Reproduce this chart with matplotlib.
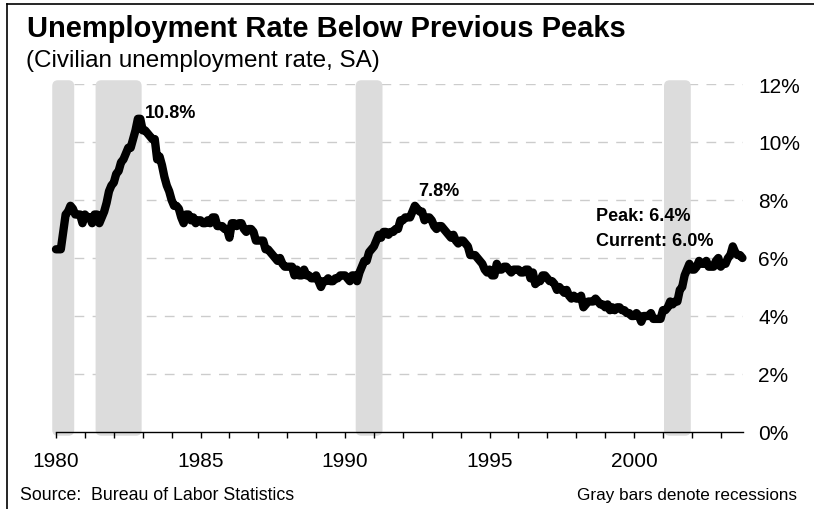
import numpy as np
import matplotlib
matplotlib.use('Agg')
import matplotlib.pyplot as plt
from matplotlib.patches import FancyBboxPatch
from matplotlib.lines import Line2D

plt.rcParams['font.family'] = ['Liberation Sans', 'DejaVu Sans']

# monthly civilian unemployment rate (%), SA, Jan 1980 - Oct 2003
rate_1980s = [
    6.3, 6.3, 6.3, 6.9, 7.5, 7.6, 7.8, 7.7, 7.5, 7.5, 7.5, 7.2,   # 1980
    7.5, 7.4, 7.4, 7.2, 7.5, 7.5, 7.2, 7.4, 7.6, 7.9, 8.3, 8.5,   # 1981
    8.6, 8.9, 9.0, 9.3, 9.4, 9.6, 9.8, 9.8, 10.1, 10.4, 10.8, 10.8,  # 1982
    10.4, 10.4, 10.3, 10.2, 10.1, 10.1, 9.4, 9.5, 9.2, 8.8, 8.5, 8.3,  # 1983
    8.0, 7.8, 7.8, 7.7, 7.4, 7.2, 7.5, 7.5, 7.3, 7.4, 7.2, 7.3,   # 1984
    7.3, 7.2, 7.2, 7.3, 7.2, 7.4, 7.4, 7.1, 7.1, 7.1, 7.0, 7.0,   # 1985
    6.7, 7.2, 7.2, 7.1, 7.2, 7.2, 7.0, 6.9, 7.0, 7.0, 6.9, 6.6,   # 1986
    6.6, 6.6, 6.6, 6.3, 6.3, 6.2, 6.1, 6.0, 5.9, 6.0, 5.8, 5.7,   # 1987
    5.7, 5.7, 5.7, 5.4, 5.6, 5.4, 5.4, 5.6, 5.4, 5.4, 5.3, 5.3,   # 1988
    5.4, 5.2, 5.0, 5.2, 5.2, 5.3, 5.2, 5.2, 5.3, 5.3, 5.4, 5.4,   # 1989
]
rate_1990s = [
    5.4, 5.3, 5.2, 5.4, 5.4, 5.2, 5.5, 5.7, 5.9, 5.9, 6.2, 6.3,   # 1990
    6.4, 6.6, 6.8, 6.7, 6.9, 6.9, 6.8, 6.9, 6.9, 7.0, 7.0, 7.3,   # 1991
    7.3, 7.4, 7.4, 7.4, 7.6, 7.8, 7.7, 7.6, 7.6, 7.3, 7.4, 7.4,   # 1992
    7.3, 7.1, 7.0, 7.1, 7.1, 7.0, 6.9, 6.8, 6.7, 6.8, 6.6, 6.5,   # 1993
    6.6, 6.6, 6.5, 6.4, 6.1, 6.1, 6.1, 6.0, 5.9, 5.8, 5.6, 5.5,   # 1994
    5.6, 5.4, 5.4, 5.8, 5.6, 5.6, 5.7, 5.7, 5.6, 5.5, 5.6, 5.6,   # 1995
    5.6, 5.5, 5.5, 5.6, 5.6, 5.3, 5.5, 5.1, 5.2, 5.2, 5.4, 5.4,   # 1996
    5.3, 5.2, 5.2, 5.1, 4.9, 5.0, 4.9, 4.8, 4.9, 4.7, 4.6, 4.7,   # 1997
    4.6, 4.6, 4.7, 4.3, 4.4, 4.5, 4.5, 4.5, 4.6, 4.5, 4.4, 4.4,   # 1998
    4.3, 4.4, 4.2, 4.3, 4.2, 4.3, 4.3, 4.2, 4.2, 4.1, 4.1, 4.0,   # 1999
]
rate_2000s = [
    4.0, 4.1, 4.0, 3.8, 4.0, 4.0, 4.0, 4.1, 3.9, 3.9, 3.9, 3.9,   # 2000
    4.2, 4.2, 4.3, 4.5, 4.4, 4.5, 4.5, 4.9, 5.0, 5.4, 5.6, 5.8,   # 2001
    5.6, 5.6, 5.7, 5.9, 5.8, 5.8, 5.9, 5.7, 5.7, 5.7, 5.9, 6.0,   # 2002
    5.7, 5.8, 5.8, 6.0, 6.1, 6.4, 6.2, 6.1, 6.1, 6.0,             # 2003
]

recession_start = [1980.0, 1981.5, 1990.5, 2001.167]
recession_end = [1980.5, 1982.833, 1991.167, 2001.833]

x_years = list(range(1980, 2004))
y_ticks = [0, 2, 4, 6, 8, 10, 12]

rate = np.array(rate_1980s + rate_1990s + rate_2000s)
t = 1980 + np.arange(len(rate)) / 12.0

W, H = 814, 510
fig = plt.figure(figsize=(W / 100, H / 100), dpi=100)
ax = fig.add_axes([56 / W, 1 - 433 / H, (743 - 56) / W, (433 - 85) / H])
ax.set_xlim(1980, 2003.77)
ax.set_ylim(0, 12)

# dashed gridlines
for v in y_ticks[1:]:
    ax.axhline(v, color='#cccccc', lw=1, ls=(0, (7, 6)), zorder=0)

# recession bars
for s, e in zip(recession_start, recession_end):
    ax.add_patch(FancyBboxPatch(
        (s, 0), e - s, 12, boxstyle='round,pad=0.13,rounding_size=0.2',
        mutation_aspect=1, fc='#dcdcdc', ec='none', clip_on=False, zorder=1))

ax.plot(t, rate, color='black', lw=6, solid_joinstyle='round',
        solid_capstyle='round', zorder=3, clip_on=False)

for sp in ['top', 'left', 'right']:
    ax.spines[sp].set_visible(False)
ax.spines['bottom'].set_linewidth(1)
ax.spines['bottom'].set_zorder(4)

ax.set_xticks(x_years)
ax.set_xticklabels([str(y) if y % 5 == 0 else '' for y in x_years])
ax.tick_params(axis='x', direction='out', length=4, width=1, pad=10,
               labelsize=15)
ax.yaxis.tick_right()
ax.set_yticks(y_ticks)
ax.set_yticklabels(['%d%%' % v for v in y_ticks])
ax.tick_params(axis='y', length=0, pad=11, labelsize=15)

# annotations
ax.text(1983.08, 11.03, '10.8%', fontsize=13, fontweight='bold', va='center')
ax.text(1992.53, 8.32, '7.8%', fontsize=13, fontweight='bold', va='center')
ax.text(1998.67, 7.48, 'Peak: 6.4%', fontsize=13, fontweight='bold', va='center')
ax.text(1998.67, 6.62, 'Current: 6.0%', fontsize=13, fontweight='bold', va='center')

fig.text(27 / W, 1 - 37 / H, 'Unemployment Rate Below Previous Peaks',
         fontsize=21, fontweight='bold', va='baseline')
fig.text(26 / W, 1 - 67 / H, '(Civilian unemployment rate, SA)',
         fontsize=17.5, va='baseline')
fig.text(20 / W, 1 - 500 / H, 'Source:  Bureau of Labor Statistics',
         fontsize=12.8, va='baseline')
fig.text(797 / W, 1 - 500 / H, 'Gray bars denote recessions',
         fontsize=12.3, va='baseline', ha='right')

# frame lines at left and top
fig.add_artist(Line2D([7 / W, 7 / W], [0, 1 - 5 / H], color='black', lw=1.2,
                      transform=fig.transFigure))
fig.add_artist(Line2D([7 / W, 1], [1 - 5 / H, 1 - 5 / H], color='black',
                      lw=1.2, transform=fig.transFigure))

fig.savefig('out.png', dpi=100)
